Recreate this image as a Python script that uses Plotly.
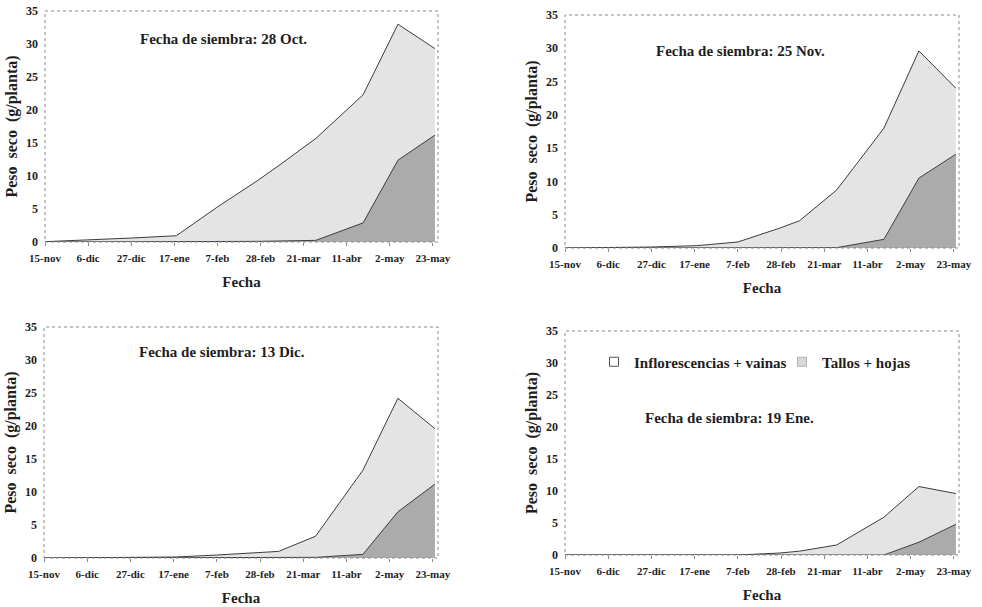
import plotly.graph_objects as go

# ---------------- data ----------------
sample_dates = ["2000-11-15", "2000-12-06", "2000-12-27", "2001-01-18", "2001-02-07",
                "2001-02-27", "2001-03-09", "2001-03-27", "2001-04-19", "2001-05-06", "2001-05-24"]

tick_dates = ["2000-11-15", "2000-12-06", "2000-12-27", "2001-01-17", "2001-02-07",
              "2001-02-28", "2001-03-21", "2001-04-11", "2001-05-02", "2001-05-23"]
tick_labels = ["15-nov", "6-dic", "27-dic", "17-ene", "7-feb",
               "28-feb", "21-mar", "11-abr", "2-may", "23-may"]

panel_titles = ["Fecha de siembra: 28 Oct.", "Fecha de siembra: 25 Nov.",
                "Fecha de siembra: 13 Dic.", "Fecha de siembra: 19 Ene."]

# Inflorescencias + vainas (lower, dark area)
inflo_oct28 = [0, 0, 0, 0, 0.05, 0.1, 0.15, 0.25, 2.9, 12.4, 16.2]
inflo_nov25 = [0, 0, 0, 0, 0, 0, 0, 0.05, 1.3, 10.5, 14.1]
inflo_dic13 = [0, 0, 0, 0, 0, 0, 0, 0.1, 0.55, 7.0, 11.2]
inflo_ene19 = [0, 0, 0, 0, 0, 0, 0, 0, 0, 2.0, 4.8]

# Tallos + hojas (upper, light area, stacked on top)
tallos_oct28 = [0.05, 0.3, 0.6, 0.95, 5.25, 9.3, 11.45, 15.45, 19.4, 20.6, 13.1]
tallos_nov25 = [0, 0.05, 0.15, 0.35, 0.9, 2.95, 4.1, 8.65, 16.7, 19.1, 9.9]
tallos_dic13 = [0, 0.02, 0.05, 0.15, 0.45, 0.8, 1.0, 3.2, 12.75, 17.2, 8.4]
tallos_ene19 = [0, 0, 0, 0, 0, 0.3, 0.6, 1.56, 5.9, 8.7, 4.8]

inflo_series = [inflo_oct28, inflo_nov25, inflo_dic13, inflo_ene19]
tallos_series = [tallos_oct28, tallos_nov25, tallos_dic13, tallos_ene19]

series_names = ["Inflorescencias + vainas", "Tallos + hojas"]
y_title = "Peso&nbsp;&nbsp;seco&nbsp;&nbsp;(g/planta)"

# ---------------- style ----------------
W, H = 982, 607
FONT = "Liberation Serif, Times New Roman, serif"
DARK = "#ababab"
LIGHT = "#e4e4e4"
EDGE = "#3c3c3c"
TXT = "#1e1e1e"

# plot areas in pixels: (left, right, top, bottom)
areas = [(45, 438, 11, 242), (565, 959, 15, 248), (44, 438, 327, 558), (565, 959, 331, 555)]
title_pos = [(223, 39), (740, 51), (222, 352), (729, 418)]

fig = go.Figure()
layout = dict(
    width=W, height=H, margin=dict(l=0, r=0, t=0, b=0),
    paper_bgcolor="white", plot_bgcolor="white",
    font=dict(family=FONT, color=TXT),
    showlegend=True,
)
shapes = []
annotations = []

for i in range(4):
    sfx = "" if i == 0 else str(i + 1)
    xa, ya = "x" + sfx, "y" + sfx
    l, r, t, b = areas[i]
    fig.add_trace(go.Scatter(
        x=sample_dates, y=inflo_series[i], xaxis=xa, yaxis=ya,
        stackgroup="g%d" % i, mode="lines", name=series_names[0],
        line=dict(color=EDGE, width=1), fillcolor=DARK, showlegend=False,
    ))
    fig.add_trace(go.Scatter(
        x=sample_dates, y=tallos_series[i], xaxis=xa, yaxis=ya,
        stackgroup="g%d" % i, mode="lines", name=series_names[1],
        line=dict(color=EDGE, width=1), fillcolor=LIGHT, showlegend=False,
    ))
    layout["xaxis" + sfx] = dict(
        domain=[l / W, r / W], anchor=ya, type="date",
        range=["2000-11-15", "2001-05-25 12:00"],
        tickmode="array", tickvals=tick_dates, ticktext=tick_labels,
        ticks="outside", ticklen=3, tickcolor="#888", ticklabelstandoff=3,
        tickfont=dict(size=11, family=FONT, weight="bold", color=TXT),
        showgrid=False, zeroline=False, showline=False,
        title=dict(text="Fecha", font=dict(size=15, family=FONT, weight="bold", color=TXT),
                   standoff=13),
        automargin=False, fixedrange=True,
    )
    layout["yaxis" + sfx] = dict(
        domain=[1 - b / H, 1 - t / H], anchor=xa,
        range=[0, 35], tickmode="linear", tick0=0, dtick=5,
        ticks="", ticklabelstandoff=6,
        tickfont=dict(size=12, family=FONT, weight="bold", color=TXT),
        showgrid=False, zeroline=False, showline=False,
        title=dict(text=y_title,
                   font=dict(size=16, family=FONT, weight="bold", color=TXT),
                   standoff=4),
        automargin=False, fixedrange=True,
    )
    shapes.append(dict(
        type="rect", xref=xa + " domain", yref=ya + " domain",
        x0=0, x1=1, y0=0, y1=1, line=dict(color="#8a8a8a", width=1, dash="dot"),
        layer="above",
    ))
    tx, ty = title_pos[i]
    annotations.append(dict(
        text="<b>" + panel_titles[i] + "</b>", xref="paper", yref="paper",
        x=tx / W, y=1 - ty / H, xanchor="center", yanchor="middle",
        showarrow=False, font=dict(size=15, family=FONT, color=TXT),
    ))

# legend entries (shown in the last panel)
fig.add_trace(go.Scatter(
    x=[None], y=[None], xaxis="x4", yaxis="y4", mode="markers",
    name="<b>" + series_names[0] + "</b>",
    marker=dict(symbol="square", size=9, color="white", line=dict(color="#555", width=1)),
))
fig.add_trace(go.Scatter(
    x=[None], y=[None], xaxis="x4", yaxis="y4", mode="markers",
    name="<b>" + series_names[1] + "</b>",
    marker=dict(symbol="square", size=9, color="#d8d8d8", line=dict(color="#b0b0b0", width=1)),
))

layout["legend"] = dict(
    orientation="h", x=594 / W, y=1 - 362 / H, xanchor="left", yanchor="middle",
    traceorder="normal", entrywidth=143, entrywidthmode="pixels",
    font=dict(size=15, family=FONT, color=TXT),
    bgcolor="rgba(0,0,0,0)", itemwidth=30, tracegroupgap=0,
)
layout["shapes"] = shapes
layout["annotations"] = annotations
fig.update_layout(**layout)

fig.write_html("out.html", config={"displayModeBar": False},
               post_script="document.body.style.margin='0';document.body.style.overflow='hidden';")
